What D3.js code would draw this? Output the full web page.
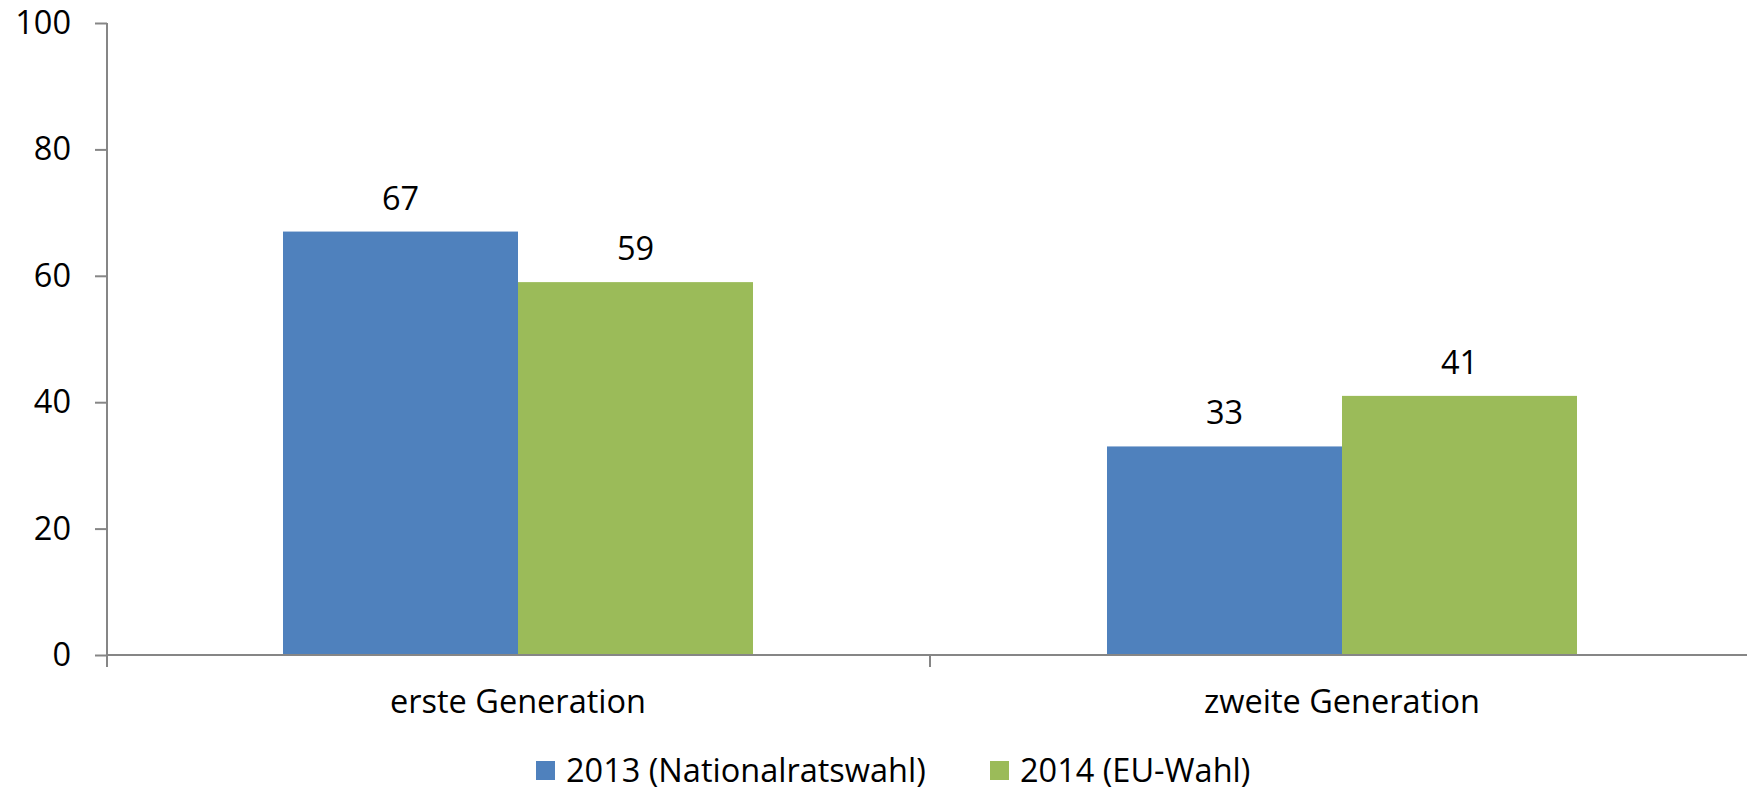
<!DOCTYPE html>
<html>
<head>
<meta charset="utf-8">
<script src="https://cdn.jsdelivr.net/npm/d3@7"></script>
<style>
    body { margin: 0; background: #fff; }
    svg text { font-family: "Open Sans", sans-serif; fill: #000; }
</style>
</head>
<body>
<div id="chart"></div>
<script>
"use strict";

const categories = ['erste Generation', 'zweite Generation'];
const series = ['2013 (Nationalratswahl)', '2014 (EU-Wahl)'];
const values_2013 = [67, 33];
const values_2014 = [59, 41];
const y_ticks = [0, 20, 40, 60, 80, 100];
const colors = ['#4f81bd', '#9bbb59'];

const width = 1747, height = 791;
const font_size = 32.5;
const axis_color = '#868686';

const svg = d3.select('#chart').append('svg')
    .attr('width', width)
    .attr('height', height);

const yScale = d3.scaleLinear().domain([0, 100]).range([655, 23]);
const x0 = d3.scaleBand().domain(categories).range([106, 1754])
    .paddingInner(0.4296).paddingOuter(0.2148);
const x1 = d3.scaleBand().domain(series).range([0, x0.bandwidth()]);

const rows = categories.map((c, i) => ({
    category: c,
    values: [values_2013[i], values_2014[i]]
}));

// y axis
const yAxis = d3.axisLeft(yScale)
    .tickValues(y_ticks)
    .tickSizeInner(12)
    .tickSizeOuter(0)
    .tickPadding(24);

const gy = svg.append('g')
    .attr('transform', 'translate(107,0)')
    .call(yAxis);
gy.select('.domain').attr('stroke', axis_color).attr('stroke-width', 2)
    .attr('d', `M0,${yScale(100)}V${yScale(0) + 12}`);
gy.selectAll('.tick line').attr('stroke', axis_color).attr('stroke-width', 2);
gy.selectAll('.tick text').style('font-size', font_size + 'px')
    .style('font-family', '"Open Sans", sans-serif').attr('fill', '#000');

// bars
const groups = svg.append('g').selectAll('g')
    .data(rows)
    .join('g')
    .attr('transform', d => `translate(${x0(d.category)},0)`);

groups.selectAll('rect')
    .data(d => d.values.map((v, i) => ({series: series[i], value: v, color: colors[i]})))
    .join('rect')
    .attr('x', d => x1(d.series))
    .attr('y', d => yScale(d.value))
    .attr('width', x1.bandwidth())
    .attr('height', d => yScale(0) - yScale(d.value))
    .attr('fill', d => d.color);

groups.selectAll('text')
    .data(d => d.values.map((v, i) => ({series: series[i], value: v})))
    .join('text')
    .attr('x', d => x1(d.series) + x1.bandwidth() / 2)
    .attr('y', d => yScale(d.value) - 22)
    .attr('text-anchor', 'middle')
    .style('font-size', font_size + 'px')
    .text(d => d.value);

// x axis (category boundaries get the ticks)
const step = x0.step();
const [rx0, rx1] = x0.range();
const boundaries = d3.range(categories.length + 1).map(i => rx0 + i * step);

svg.append('line')
    .attr('x1', 107).attr('x2', rx1)
    .attr('y1', yScale(0)).attr('y2', yScale(0))
    .attr('stroke', axis_color).attr('stroke-width', 2);

svg.append('g').selectAll('line')
    .data(boundaries.slice(1))
    .join('line')
    .attr('x1', d => d).attr('x2', d => d)
    .attr('y1', yScale(0)).attr('y2', yScale(0) + 12)
    .attr('stroke', axis_color).attr('stroke-width', 2);

svg.append('g').selectAll('text')
    .data(categories)
    .join('text')
    .attr('x', d => x0(d) + x0.bandwidth() / 2)
    .attr('y', 713)
    .attr('text-anchor', 'middle')
    .style('font-size', font_size + 'px')
    .text(d => d);

// legend
const legend_items = [
    {name: series[0], color: colors[0], x: 536},
    {name: series[1], color: colors[1], x: 990}
];
const legend = svg.append('g').selectAll('g')
    .data(legend_items)
    .join('g')
    .attr('transform', d => `translate(${d.x},761)`);

legend.append('rect')
    .attr('width', 19).attr('height', 19)
    .attr('fill', d => d.color);

legend.append('text')
    .attr('x', 30)
    .attr('y', 21)
    .style('font-size', font_size + 'px')
    .text(d => d.name);
</script>
</body>
</html>
